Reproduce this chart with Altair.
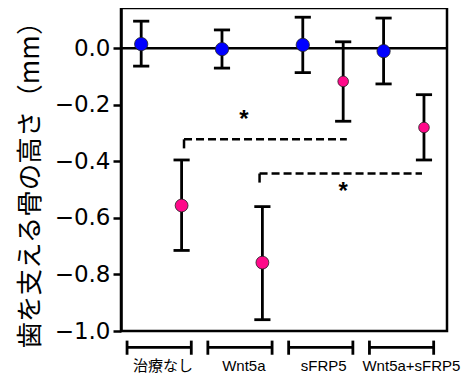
import altair as alt
import pandas as pd

# ---- data ----
groups = ["治療なし", "Wnt5a", "sFRP5", "Wnt5a+sFRP5"]
blue_mean = [0.015, -0.003, 0.012, -0.010]
blue_hi = [0.096, 0.065, 0.110, 0.107]
blue_lo = [-0.063, -0.070, -0.086, -0.126]
pink_mean = [-0.556, -0.758, -0.117, -0.280]
pink_hi = [-0.395, -0.560, 0.023, -0.164]
pink_lo = [-0.715, -0.960, -0.258, -0.395]

# significance brackets (x in slot units, y in mm)
sig_start = [1.56, 3.43]
sig_end = [5.59, 7.45]
sig_y = [-0.322, -0.443]
star_x = [3.04, 5.50]
star_y = [-0.245, -0.500]

y_ticks = [0.0, -0.2, -0.4, -0.6, -0.8, -1.0]

# ---- styles ----
BLUE = "#0000ff"
PINK = "#ff0a8a"
dot_size_blue = [177, 177, 177, 177]
dot_size_pink = [165, 165, 113, 113]

rows = []
for g, name in enumerate(groups):
    rows.append(dict(group=name, series="blue", x=2 * g + 0.5, mean=blue_mean[g],
                     hi=blue_hi[g], lo=blue_lo[g], size=dot_size_blue[g]))
    rows.append(dict(group=name, series="pink", x=2 * g + 1.5, mean=pink_mean[g],
                     hi=pink_hi[g], lo=pink_lo[g], size=dot_size_pink[g]))
df = pd.DataFrame(rows)

caps = pd.concat([
    df[["x", "hi"]].rename(columns={"hi": "y"}),
    df[["x", "lo"]].rename(columns={"lo": "y"}),
])

sig = pd.DataFrame(dict(x1=sig_start, x2=sig_end, y=sig_y))
stars = pd.DataFrame(dict(x=star_x, y=star_y, t=["*", "*"]))

grp = pd.DataFrame(dict(g=list(range(4)), name=groups))
label_x = [1.04, 3.04, 5.02, 7.19]
grp["lx"] = label_x

X_DOM = [0, 8.07]
Y_DOM = [-1.0, 0.1426]

xs = alt.Scale(domain=X_DOM, nice=False, zero=False)
ys = alt.Scale(domain=Y_DOM, nice=False, zero=False)

yaxis = alt.Axis(
    values=y_ticks, format=".1f", grid=False,
    title="歯を支える骨の高さ（mm）",
    titleFont="Noto Sans CJK JP", titleFontSize=26.5, titleFontWeight="normal",
    titleColor="black", titleX=-90.5, titleY=170, titleAngle=270,
    titleBaseline="middle", titleAlign="center",
    labelFont="DejaVu Sans", labelFontSize=23, labelColor="black", labelPadding=3,
    tickSize=8, tickWidth=2.5, tickColor="black",
    domainColor="black", domainWidth=2.5,
)

base = alt.Chart(df)

zero = alt.Chart(pd.DataFrame({"v": [0.0]})).mark_rule(color="black", strokeWidth=2.5).encode(
    y=alt.Y("v:Q", scale=ys, axis=yaxis)
)

err = base.mark_rule(color="black", strokeWidth=2.8).encode(
    x=alt.X("x:Q", scale=xs, axis=None),
    y=alt.Y("lo:Q", scale=ys),
    y2="hi:Q",
)

cap = alt.Chart(caps).transform_calculate(
    a="datum.x - 0.2", b="datum.x + 0.2"
).mark_rule(color="black", strokeWidth=2.8).encode(
    x=alt.X("a:Q", scale=xs, axis=None), x2="b:Q", y=alt.Y("y:Q", scale=ys)
)

dots = base.mark_circle(opacity=1, stroke="#222222", strokeWidth=0.8).encode(
    x=alt.X("x:Q", scale=xs, axis=None),
    y=alt.Y("mean:Q", scale=ys),
    fill=alt.Fill("series:N", scale=alt.Scale(domain=["blue", "pink"], range=[BLUE, PINK]), legend=None),
    size=alt.Size("size:Q", scale=None, legend=None),
)

sig_h = alt.Chart(sig).mark_rule(color="black", strokeWidth=2.5, strokeDash=[8, 4]).encode(
    x=alt.X("x1:Q", scale=xs, axis=None), x2="x2:Q", y=alt.Y("y:Q", scale=ys)
)
sig_v = alt.Chart(sig).transform_calculate(yb="datum.y - 0.032").mark_rule(
    color="black", strokeWidth=2.5
).encode(
    x=alt.X("x1:Q", scale=xs, axis=None), y=alt.Y("y:Q", scale=ys), y2="yb:Q"
)
star = alt.Chart(stars).mark_text(
    font="Liberation Sans", fontSize=24, fontWeight="bold", color="black", baseline="middle", dy=2
).encode(
    x=alt.X("x:Q", scale=xs, axis=None), y=alt.Y("y:Q", scale=ys), text="t:N"
)

gb = alt.Chart(grp).transform_calculate(
    a="2*datum.g + 0.15", b="2*datum.g + 1.74", yl="-1.058", yt1="-1.034", yt2="-1.084"
)
br_h = gb.mark_rule(color="black", strokeWidth=2.8).encode(
    x=alt.X("a:Q", scale=xs, axis=None), x2="b:Q", y=alt.Y("yl:Q", scale=ys)
)
br_l = gb.mark_rule(color="black", strokeWidth=2.8).encode(
    x=alt.X("a:Q", scale=xs, axis=None), y=alt.Y("yt1:Q", scale=ys), y2="yt2:Q"
)
br_r = gb.mark_rule(color="black", strokeWidth=2.8).encode(
    x=alt.X("b:Q", scale=xs, axis=None), y=alt.Y("yt1:Q", scale=ys), y2="yt2:Q"
)

lab_cjk = alt.Chart(grp).transform_filter("datum.g == 0").transform_calculate(
    ly="-1.125"
).mark_text(font="Noto Sans CJK JP", fontSize=15, color="black", baseline="middle").encode(
    x=alt.X("lx:Q", scale=xs, axis=None), y=alt.Y("ly:Q", scale=ys), text="name:N"
)
lab_lat = alt.Chart(grp).transform_filter("datum.g > 0").transform_calculate(
    ly="-1.125"
).mark_text(font="Liberation Sans", fontSize=15, color="black", baseline="middle").encode(
    x=alt.X("lx:Q", scale=xs, axis=None), y=alt.Y("ly:Q", scale=ys), text="name:N"
)

chart = alt.layer(
    zero, err, cap, dots, sig_h, sig_v, star, br_h, br_l, br_r, lab_cjk, lab_lat
).properties(
    width=326, height=323,
    autosize=alt.AutoSizeParams(type="none"),
    padding={"left": 113, "top": 0, "right": 14, "bottom": 46},
    background="white",
).configure_view(stroke="black", strokeWidth=2.5)

chart.save("out.html", embed_options={"renderer": "svg", "actions": False})
